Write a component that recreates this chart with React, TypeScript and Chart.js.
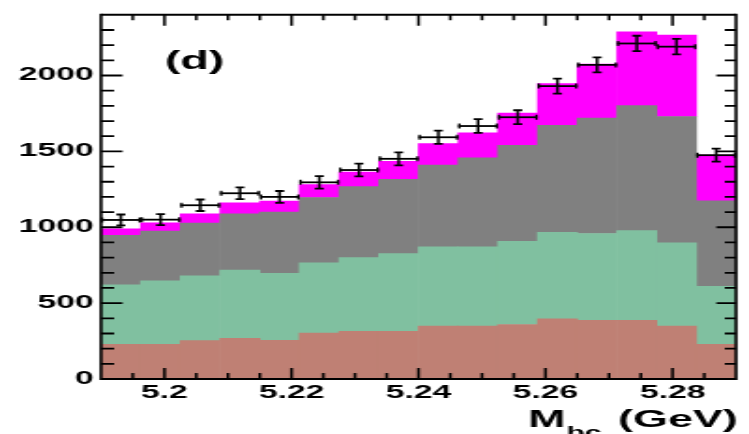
import React, { useEffect, useRef } from "react";
import { Chart, registerables } from "chart.js";

Chart.register(...registerables);

// ---- data ----
const binCenters = [
  5.193125, 5.199375, 5.205625, 5.211875, 5.218125, 5.224375, 5.230625, 5.236875,
  5.243125, 5.249375, 5.255625, 5.261875, 5.268125, 5.274375, 5.280625, 5.286875,
];
const binWidth = 0.00625;

// stacked components (bottom to top)
const redLayer = [229, 229, 253, 268, 255, 303, 314, 314, 349, 349, 359, 397, 386, 386, 349, 229];
const greenLayer = [392, 418, 427, 449, 442, 462, 486, 512, 522, 522, 549, 570, 573, 592, 549, 381];
const grayLayer = [325, 327, 348, 372, 403, 431, 468, 490, 539, 587, 632, 704, 760, 824, 832, 564];
const magentaLayer = [43, 55, 61, 72, 72, 85, 96, 118, 141, 165, 212, 275, 356, 486, 536, 301];

// data points with errors
const dataValues = [1048, 1050, 1145, 1224, 1200, 1296, 1377, 1451, 1593, 1667, 1725, 1930, 2070, 2211, 2190, 1475];
const dataErrors = [36, 36, 38, 39, 39, 41, 42, 43, 44, 45, 46, 49, 50, 51, 51, 43];

const xTickValues = [5.2, 5.22, 5.24, 5.26, 5.28];
const xTickLabels = ["5.2", "5.22", "5.24", "5.26", "5.28"];
const xMinorStep = 0.005;
const yTickValues = [0, 500, 1000, 1500, 2000];
const yTickLabels = ["0", "500", "1000", "1500", "2000"];
const yMinorStep = 100;

const X_MIN = 5.19;
const X_MAX = 5.29;
const Y_MIN = 0;
const Y_MAX = 2400;

const panelLabel = "(d)";
const xTitleMain = "M";
const xTitleSub = "bc";
const xTitleUnit = "(GeV)";

// native canvas width; stretched horizontally in CSS like the reference
const NATIVE_W = 400;
const NATIVE_H = 434;
const CSS_W = 749;
const STRETCH = CSS_W / NATIVE_W;
const FONT = '"Liberation Sans", Arial, Helvetica, sans-serif';

const decor = {
  id: "decor",
  afterDatasetsDraw(chart: any) {
    const { ctx, scales } = chart;
    const x = scales.x;
    const y = scales.y;
    ctx.save();
    ctx.strokeStyle = "#000";
    ctx.lineCap = "butt";
    for (let i = 0; i < binCenters.length; i++) {
      const xl = x.getPixelForValue(binCenters[i] - binWidth / 2);
      const xr = x.getPixelForValue(binCenters[i] + binWidth / 2);
      const xc = x.getPixelForValue(binCenters[i]);
      const yc = y.getPixelForValue(dataValues[i]);
      const yt = y.getPixelForValue(dataValues[i] + dataErrors[i]);
      const yb = y.getPixelForValue(dataValues[i] - dataErrors[i]);
      // horizontal bar
      ctx.lineWidth = 1.8;
      ctx.beginPath();
      ctx.moveTo(xl, yc);
      ctx.lineTo(xr, yc);
      ctx.stroke();
      // end caps
      ctx.lineWidth = 1.3;
      ctx.beginPath();
      ctx.moveTo(xl + 0.6, yc - 2.5);
      ctx.lineTo(xl + 0.6, yc + 2.5);
      ctx.moveTo(xr - 0.6, yc - 2.5);
      ctx.lineTo(xr - 0.6, yc + 2.5);
      ctx.stroke();
      // vertical error
      ctx.lineWidth = 1.5;
      ctx.beginPath();
      ctx.moveTo(xc, yt);
      ctx.lineTo(xc, yb);
      ctx.stroke();
      ctx.lineWidth = 1.8;
      ctx.beginPath();
      ctx.moveTo(xc - 2.4, yt);
      ctx.lineTo(xc + 2.4, yt);
      ctx.moveTo(xc - 2.4, yb);
      ctx.lineTo(xc + 2.4, yb);
      ctx.stroke();
    }
    ctx.restore();
  },
  afterDraw(chart: any) {
    const { ctx, chartArea: a, scales } = chart;
    const x = scales.x;
    const y = scales.y;
    ctx.save();
    ctx.strokeStyle = "#000";
    // y ticks (left & right)
    ctx.lineWidth = 1.8;
    ctx.beginPath();
    for (let v = Y_MIN; v < Y_MAX; v += yMinorStep) {
      const py = y.getPixelForValue(v);
      const major = v % 500 === 0;
      ctx.moveTo(a.left, py);
      ctx.lineTo(a.left + (major ? 11.5 : 7), py);
      ctx.moveTo(a.right, py);
      ctx.lineTo(a.right - (major ? 10.5 : 6), py);
    }
    ctx.stroke();
    // x ticks (top & bottom)
    ctx.lineWidth = 1.5;
    ctx.beginPath();
    for (let k = 1; k * xMinorStep + X_MIN < X_MAX - 1e-9; k++) {
      const v = X_MIN + k * xMinorStep;
      const px = x.getPixelForValue(v);
      const major = xTickValues.some((t) => Math.abs(t - v) < 1e-6);
      ctx.moveTo(px, a.bottom);
      ctx.lineTo(px, a.bottom - (major ? 11 : 6));
      ctx.moveTo(px, a.top);
      ctx.lineTo(px, a.top + (major ? 11 : 5.5));
    }
    ctx.stroke();
    // frame
    ctx.lineWidth = 2;
    ctx.beginPath();
    ctx.moveTo(a.left, a.top);
    ctx.lineTo(a.right, a.top);
    ctx.moveTo(a.left, a.bottom);
    ctx.lineTo(a.right, a.bottom);
    ctx.stroke();
    ctx.lineWidth = 1.6;
    ctx.beginPath();
    ctx.moveTo(a.left, a.top - 1);
    ctx.lineTo(a.left, a.bottom + 1);
    ctx.moveTo(a.right, a.top - 1);
    ctx.lineTo(a.right, a.bottom + 1);
    ctx.stroke();

    // panel label
    ctx.fillStyle = "#000";
    ctx.textBaseline = "alphabetic";
    ctx.textAlign = "left";
    ctx.font = `bold 25px ${FONT}`;
    ctx.fillText(panelLabel, 88, 69);

    // x title
    ctx.font = `bold 24px ${FONT}`;
    const mx = 282;
    ctx.fillText(xTitleMain, mx, 427);
    const mw = ctx.measureText(xTitleMain).width;
    ctx.font = `bold 16px ${FONT}`;
    ctx.fillText(xTitleSub, mx + mw + 0.5, 438);
    ctx.font = `bold 24px ${FONT}`;
    ctx.textAlign = "right";
    ctx.fillText(xTitleUnit, a.right + 1, 427);
    ctx.restore();
  },
};

function layerDataset(label: string, values: number[], color: string) {
  return {
    label,
    data: binCenters.map((c, i) => ({ x: c, y: values[i] })),
    backgroundColor: color,
    borderWidth: 0,
    barPercentage: 1,
    categoryPercentage: 1,
  };
}

export default function App() {
  const ref = useRef<HTMLCanvasElement | null>(null);

  useEffect(() => {
    const canvas = ref.current;
    if (!canvas) return;
    const chart = new Chart(canvas, {
      type: "bar",
      data: {
        datasets: [
          layerDataset("red", redLayer, "#bf8074"),
          layerDataset("green", greenLayer, "#80c0a0"),
          layerDataset("gray", grayLayer, "#808080"),
          layerDataset("magenta", magentaLayer, "#ff00ff"),
        ] as any,
      },
      options: {
        responsive: false,
        animation: false,
        devicePixelRatio: 1,
        layout: { padding: { left: 0, right: NATIVE_W - 736 / STRETCH, top: 12, bottom: 0 } },
        plugins: {
          legend: { display: false },
          title: { display: false },
          tooltip: { enabled: false },
        },
        scales: {
          x: {
            type: "linear",
            min: X_MIN,
            max: X_MAX,
            stacked: true,
            offset: false,
            grid: { display: false, drawTicks: false, tickLength: 0 },
            border: { display: false },
            afterBuildTicks: (s: any) => {
              s.ticks = xTickValues.map((v) => ({ value: v }));
            },
            afterFit: (s: any) => {
              s.height = 55;
            },
            ticks: {
              autoSkip: false,
              maxRotation: 0,
              minRotation: 0,
              padding: 3,
              color: "#000",
              font: { family: FONT, size: 18, weight: "bold" },
              callback: (v: any) => {
                const idx = xTickValues.findIndex((t) => Math.abs(t - Number(v)) < 1e-6);
                return idx >= 0 ? xTickLabels[idx] : "";
              },
            },
          },
          y: {
            type: "linear",
            min: Y_MIN,
            max: Y_MAX,
            stacked: true,
            grid: { display: false, drawTicks: false, tickLength: 0 },
            border: { display: false },
            afterBuildTicks: (s: any) => {
              s.ticks = yTickValues.map((v) => ({ value: v }));
            },
            afterFit: (s: any) => {
              s.width = 101 / STRETCH;
            },
            ticks: {
              autoSkip: false,
              padding: 4,
              color: "#000",
              font: { family: FONT, size: 18, weight: "bold" },
              callback: (v: any) => {
                const idx = yTickValues.indexOf(Number(v));
                return idx >= 0 ? yTickLabels[idx] : "";
              },
            },
          },
        },
      } as any,
      plugins: [decor],
    });
    return () => chart.destroy();
  }, []);

  return (
    <div style={{ position: "absolute", left: 0, top: 0, width: CSS_W, height: NATIVE_H, background: "#fff" }}>
      <canvas
        ref={ref}
        width={NATIVE_W}
        height={NATIVE_H}
        style={{ display: "block", width: `${CSS_W}px`, height: `${NATIVE_H}px` }}
      />
    </div>
  );
}
